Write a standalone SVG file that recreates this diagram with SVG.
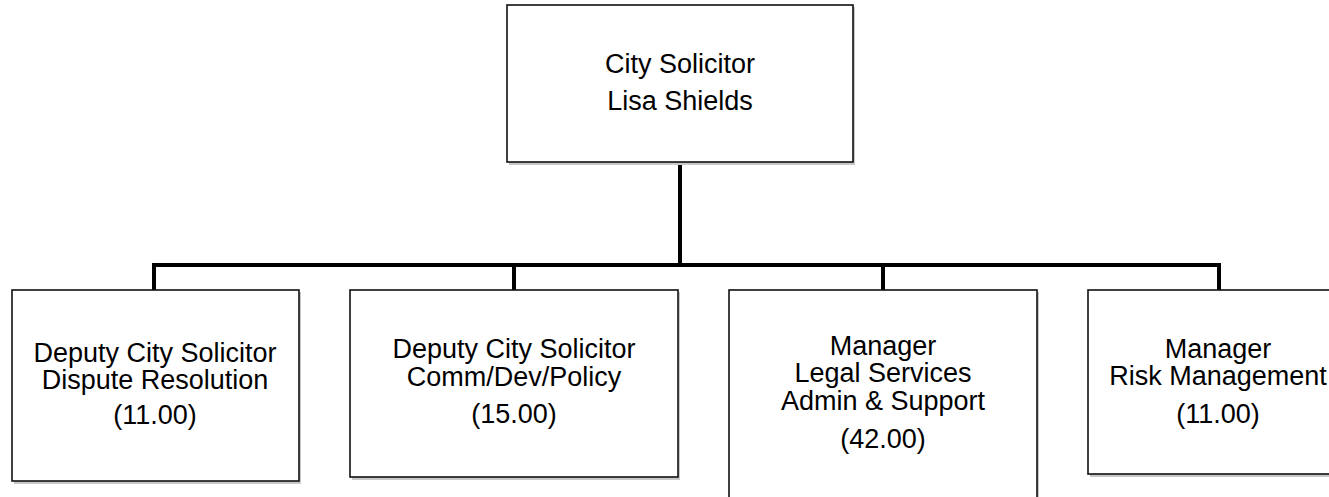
<svg xmlns="http://www.w3.org/2000/svg" width="1329" height="497" viewBox="0 0 1329 497">
<style>
.box{fill:#fff;stroke:#111;stroke-width:1.6}
.sh{fill:#c8c8c8}
.t{font-family:"Liberation Sans",Arial,sans-serif;font-size:27px;fill:#000;text-anchor:middle}
.c{fill:none;stroke:#000;stroke-width:4;stroke-linejoin:miter}
</style>
<rect width="1329" height="497" fill="#fff"/>
<g id="connectors">
<path class="c" d="M680,162 V265"/>
<path class="c" d="M154,290 V265 H1219 V290"/>
<path class="c" d="M514,265 V290"/>
<path class="c" d="M883,265 V290"/>
</g>
<g id="city-solicitor">
<rect class="sh" x="509" y="7" width="346" height="158"/>
<rect class="box" x="507" y="5" width="346" height="157"/>
<text class="t" x="680" y="73">City Solicitor</text>
<text class="t" x="680" y="110">Lisa Shields</text>
</g>
<g id="deputy-dispute">
<rect class="sh" x="14" y="292" width="287" height="192"/>
<rect class="box" x="12" y="290" width="287" height="191"/>
<text class="t" x="155" y="362">Deputy City Solicitor</text>
<text class="t" x="155" y="389">Dispute Resolution</text>
<text class="t" x="155" y="424">(11.00)</text>
</g>
<g id="deputy-comm">
<rect class="sh" x="352" y="292" width="328" height="188"/>
<rect class="box" x="350" y="290" width="328" height="187"/>
<text class="t" x="514" y="358">Deputy City Solicitor</text>
<text class="t" x="514" y="386">Comm/Dev/Policy</text>
<text class="t" x="514" y="423">(15.00)</text>
</g>
<g id="manager-legal">
<rect class="sh" x="731" y="292" width="308" height="210"/>
<rect class="box" x="729" y="290" width="308" height="210"/>
<text class="t" x="883" y="355">Manager</text>
<text class="t" x="883" y="382">Legal Services</text>
<text class="t" x="883" y="410">Admin &amp; Support</text>
<text class="t" x="883" y="448">(42.00)</text>
</g>
<g id="manager-risk">
<rect class="sh" x="1090" y="292" width="260" height="185"/>
<rect class="box" x="1088" y="290" width="260" height="184"/>
<text class="t" x="1218" y="358">Manager</text>
<text class="t" x="1218" y="385">Risk Management</text>
<text class="t" x="1218" y="423">(11.00)</text>
</g>
</svg>
